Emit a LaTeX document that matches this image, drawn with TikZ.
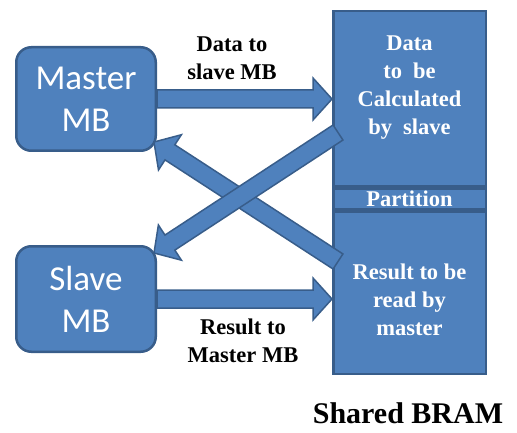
\documentclass[tikz,border=0pt]{standalone}
\usepackage{fontspec}
\setmainfont{Liberation Serif}
\newfontfamily\calibri{Carlito}
\usetikzlibrary{calc,positioning}
\definecolor{boxblue}{HTML}{4F81BD}
\definecolor{boxedge}{HTML}{385D8A}
\newcommand{\blockarrow}[2]{%
  \filldraw[barrow] let \p1=($(#2)-(#1)$), \n1={atan2(\y1,\x1)} in
    ($(#1)+(\n1+90:9)$) -- ($(#2)+(\n1+180:19)+(\n1+90:9)$)
    -- ($(#2)+(\n1+180:19)+(\n1+90:21)$) -- (#2)
    -- ($(#2)+(\n1+180:19)+(\n1-90:21)$) -- ($(#2)+(\n1+180:19)+(\n1-90:9)$)
    -- ($(#1)+(\n1-90:9)$) -- cycle;}
\begin{document}
\begin{tikzpicture}[x=1pt, y=1pt,
    mbox/.style={draw=boxedge, fill=boxblue, line width=2.5pt, rounded corners=15pt,
      minimum width=139.5pt, minimum height=103.5pt, inner sep=0pt, align=center,
      text=white, font=\calibri\fontsize{35}{42}\selectfont},
    bram/.style={draw=boxedge, fill=boxblue, line width=2.5pt, minimum width=152.5pt, inner sep=0pt},
    btext/.style={align=center, inner sep=0pt, font=\bfseries\fontsize{22.5}{28}\selectfont},
    barrow/.style={fill=boxblue, draw=boxedge, line width=1.5pt, line join=miter}]
  \useasboundingbox (0,0) rectangle (517,432);
  \node[mbox] (master) at (86,333) {Master\\MB};
  \node[mbox, minimum height=105.5pt] (slave) at (86,133) {Slave\\MB};
  \node[bram, minimum height=174.5pt] (data) at (409.5,333.5) {};
  \node[bram, minimum height=20.5pt, below=0pt of data] (part) {};
  \node[bram, minimum height=162.5pt, below=0pt of part] (result) {};
  \node[btext, text=white] (datatxt) at (409.5,344) {Data\\to~ be\\Calculated\\by~ slave};
  \node[btext, text=white] (parttxt) at (part) {Partition};
  \node[btext, text=white] (resulttxt) at (409.5,132) {Result to be\\read by\\master};
  \node[btext] (toslave) at (232,374) {Data to\\slave MB};
  \node[btext] (tomaster) at (243,91.5) {Result to\\Master MB};
  \node[btext, font=\bfseries\fontsize{30}{36}\selectfont] (bramlbl) at (408,19) {Shared BRAM};
  \coordinate (mtip) at ($(master.south east)+(-3,10)$);
  \coordinate (stip) at ($(slave.north east)+(-3,-8)$);
  \coordinate (rtail) at ($(result.west)+(6,31)$);
  \coordinate (dtail) at ($(data.west)+(6,-34)$);
  \blockarrow{master.east}{master.east -| data.west}
  \blockarrow{slave.east}{slave.east -| result.west}
  \blockarrow{rtail}{mtip}
  \blockarrow{dtail}{stip}
\end{tikzpicture}
\end{document}
